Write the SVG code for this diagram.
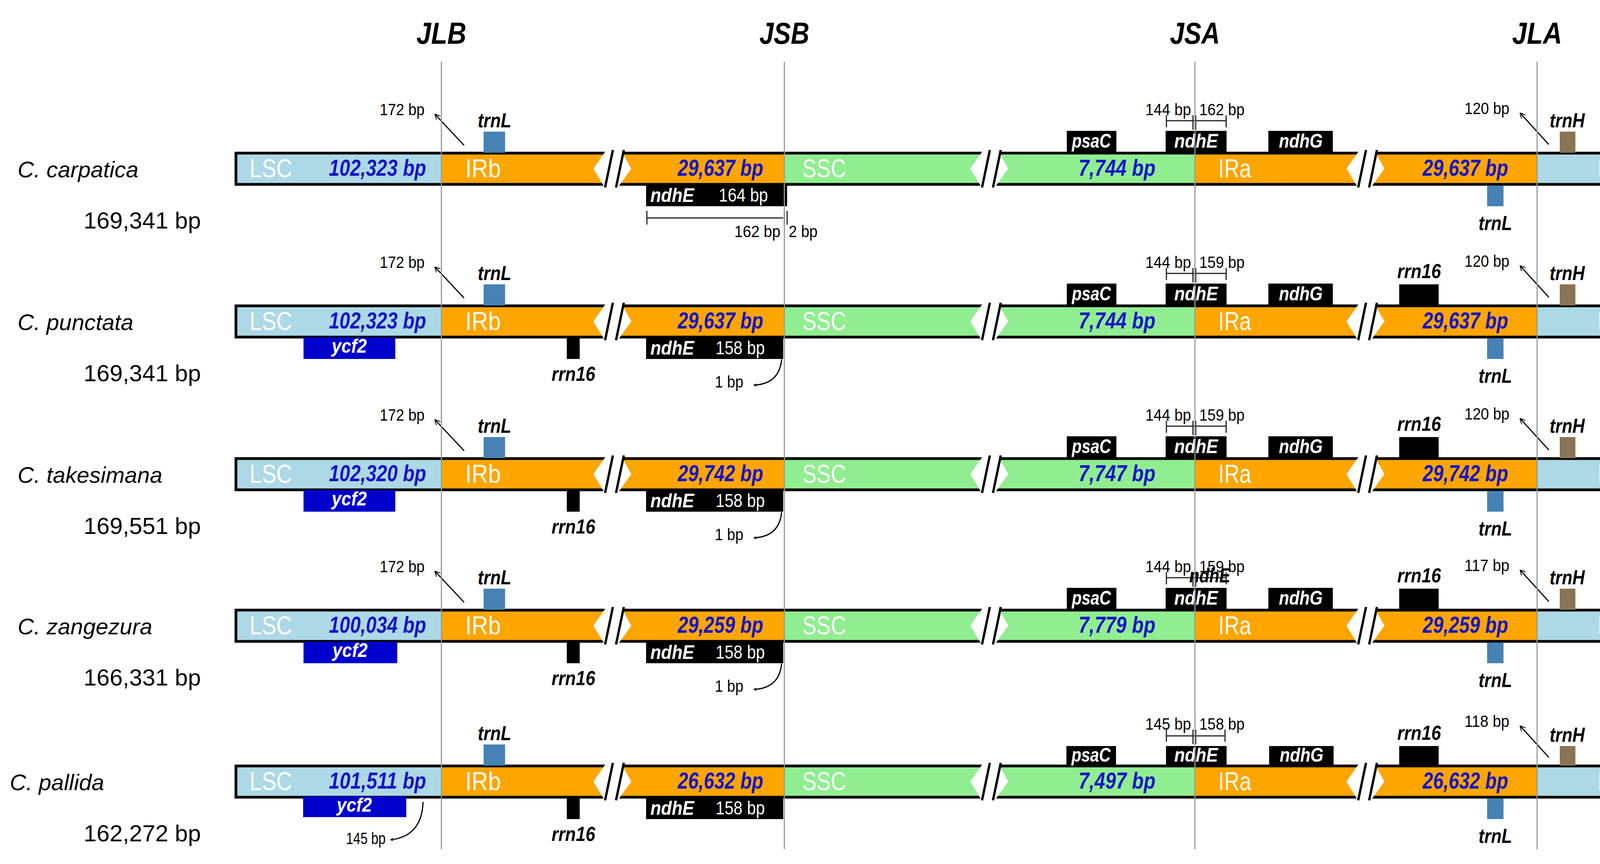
<svg xmlns="http://www.w3.org/2000/svg" width="4319" height="2212" viewBox="0 0 4319 2212">
<style>
text{font-family:"Liberation Sans",Arial,sans-serif}
.ttl{font-size:78px;font-weight:bold;font-style:italic;text-anchor:middle}
.sp{font-size:58px;font-style:italic}
.gs{font-size:60px}
.seg{font-size:66px;fill:#fff}
.num{font-size:60px;font-weight:bold;font-style:italic;fill:#1414c8}
.gl{font-size:52px;font-weight:bold;font-style:italic;text-anchor:middle}
.gw{font-size:50px;font-weight:bold;font-style:italic;fill:#fff;text-anchor:middle}
.bp{font-size:42px}
.bpw{font-size:48px;fill:#fff}
.lsc{fill:#add8e6}.ir{fill:#ffa500}.ssc{fill:#90ee90}
.brd{fill:none;stroke:#000;stroke-width:7}
.blk{fill:#000}
.trnl{fill:#4682b4}
.vl{stroke:#999;stroke-width:3}
.ar{stroke:#000;stroke-width:3;fill:none}
.dim{stroke:#222;stroke-width:3;fill:none}
</style>
<defs>
<marker id="ah" viewBox="0 0 10 10" refX="9" refY="5" markerWidth="8" markerHeight="8" orient="auto" markerUnits="userSpaceOnUse">
<path d="M0,0 L10,5 L0,10" fill="none" stroke="#000" stroke-width="1.5"/>
</marker>
<marker id="ah2" viewBox="0 0 10 10" refX="9" refY="5" markerWidth="14" markerHeight="14" orient="auto" markerUnits="userSpaceOnUse">
<path d="M0,0 L10,5 L0,10" fill="none" stroke="#000" stroke-width="1.5"/>
</marker>
<g id="bar">
<rect class="lsc" x="604" y="0" width="526" height="80"/>
<rect class="ir" x="1130" y="0" width="878" height="80"/>
<rect class="ssc" x="2008" y="0" width="1051" height="80"/>
<rect class="ir" x="3059" y="0" width="876" height="80"/>
<rect class="lsc" x="3935" y="0" width="352" height="80"/>
<rect class="brd" x="604" y="0" width="3683" height="80"/>
</g>
<g id="brk">
<polygon points="32,-6 0,40 28,86 64,86 97,40 72,-6" fill="#fff"/>
<line x1="50" y1="-8" x2="30" y2="88" stroke="#000" stroke-width="6"/>
<line x1="78" y1="-8" x2="58" y2="88" stroke="#000" stroke-width="6"/>
</g>
</defs>

<g id="titles">
<text class="ttl" x="1130" y="112" textLength="128" lengthAdjust="spacingAndGlyphs">JLB</text>
<text class="ttl" x="2008" y="112" textLength="128" lengthAdjust="spacingAndGlyphs">JSB</text>
<text class="ttl" x="3059" y="112" textLength="128" lengthAdjust="spacingAndGlyphs">JSA</text>
<text class="ttl" x="3935" y="112" textLength="128" lengthAdjust="spacingAndGlyphs">JLA</text>
</g>

<g id="row1" transform="translate(0,392)">
<text class="sp" x="45" y="62">C. carpatica</text>
<text class="gs" x="214" y="193">169,341 bp</text>
<use href="#bar"/><use href="#brk" x="1519"/><use href="#brk" x="2484"/><use href="#brk" x="3447"/>
<text class="seg" x="639" y="62" textLength="109" lengthAdjust="spacingAndGlyphs">LSC</text>
<text class="num" x="842" y="58" textLength="249" lengthAdjust="spacingAndGlyphs">102,323 bp</text>
<text class="seg" x="1191" y="62" textLength="91" lengthAdjust="spacingAndGlyphs">IRb</text>
<text class="num" x="1735" y="58" textLength="219" lengthAdjust="spacingAndGlyphs">29,637 bp</text>
<text class="seg" x="2054" y="62" textLength="112" lengthAdjust="spacingAndGlyphs">SSC</text>
<text class="num" x="2761" y="58" textLength="197" lengthAdjust="spacingAndGlyphs">7,744 bp</text>
<text class="seg" x="3119" y="62" textLength="84" lengthAdjust="spacingAndGlyphs">IRa</text>
<text class="num" x="3642" y="58" textLength="219" lengthAdjust="spacingAndGlyphs">29,637 bp</text>
<text class="seg" x="4090" y="62" textLength="109" lengthAdjust="spacingAndGlyphs">LSC</text>
<rect class="trnl" x="1238" y="-55" width="55" height="54"/>
<text class="gl" x="1266" y="-66" textLength="86" lengthAdjust="spacingAndGlyphs">trnL</text>
<line class="ar" x1="1188" y1="-20" x2="1114" y2="-99" marker-end="url(#ah2)"/>
<text class="bp" x="1087" y="-97" text-anchor="end" textLength="115" lengthAdjust="spacingAndGlyphs">172 bp</text>
<rect class="blk" x="1654" y="83" width="361" height="53"/>
<text class="gw" x="1721" y="125" textLength="112" lengthAdjust="spacingAndGlyphs">ndhE</text>
<text class="bpw" x="1840" y="124" textLength="126" lengthAdjust="spacingAndGlyphs">164 bp</text>
<path class="dim" d="M1656,148 V183 M1656,166 H2005 M2008,148 V183 M2015,148 V183"/>
<text class="bp" x="1880" y="215" textLength="118" lengthAdjust="spacingAndGlyphs">162 bp</text>
<text class="bp" x="2019" y="215" textLength="74" lengthAdjust="spacingAndGlyphs">2 bp</text>
<rect class="blk" x="2731" y="-57" width="127" height="57"/>
<text class="gw" x="2794" y="-14" textLength="100" lengthAdjust="spacingAndGlyphs">psaC</text>
<rect class="blk" x="2984" y="-57" width="156" height="57"/>
<text class="gw" x="3062" y="-14" textLength="112" lengthAdjust="spacingAndGlyphs">ndhE</text>
<rect class="blk" x="3247" y="-57" width="165" height="57"/>
<text class="gw" x="3330" y="-14" textLength="112" lengthAdjust="spacingAndGlyphs">ndhG</text>
<path class="dim" d="M2986,-97 V-66 M2986,-83 H3139 M3139,-97 V-66 M3054,-97 V-60 M3061,-97 V-60"/>
<text class="bp" x="2932" y="-97" textLength="117" lengthAdjust="spacingAndGlyphs">144 bp</text>
<text class="bp" x="3070" y="-97" textLength="116" lengthAdjust="spacingAndGlyphs">162 bp</text>
<line class="ar" x1="3965" y1="-22" x2="3892" y2="-102" marker-end="url(#ah2)"/>
<text class="bp" x="3864" y="-100" text-anchor="end" textLength="115" lengthAdjust="spacingAndGlyphs">120 bp</text>
<rect x="3993" y="-55" width="40" height="54" fill="#8b7355"/>
<text class="gl" x="4012" y="-66" textLength="90" lengthAdjust="spacingAndGlyphs">trnH</text>
<rect x="4180" y="-57" width="107" height="56" fill="#9933ee"/>
<text class="gl" x="4233" y="-66" textLength="110" lengthAdjust="spacingAndGlyphs">psbA</text>
<rect class="trnl" x="3807" y="83" width="42" height="53"/>
<text class="gl" x="3828" y="197" textLength="86" lengthAdjust="spacingAndGlyphs">trnL</text>
</g>

<g id="row2" transform="translate(0,783)">
<text class="sp" x="45" y="62">C. punctata</text>
<text class="gs" x="214" y="193">169,341 bp</text>
<use href="#bar"/><use href="#brk" x="1519"/><use href="#brk" x="2484"/><use href="#brk" x="3447"/>
<text class="seg" x="639" y="62" textLength="109" lengthAdjust="spacingAndGlyphs">LSC</text>
<text class="num" x="842" y="58" textLength="249" lengthAdjust="spacingAndGlyphs">102,323 bp</text>
<text class="seg" x="1191" y="62" textLength="91" lengthAdjust="spacingAndGlyphs">IRb</text>
<text class="num" x="1735" y="58" textLength="219" lengthAdjust="spacingAndGlyphs">29,637 bp</text>
<text class="seg" x="2054" y="62" textLength="112" lengthAdjust="spacingAndGlyphs">SSC</text>
<text class="num" x="2761" y="58" textLength="197" lengthAdjust="spacingAndGlyphs">7,744 bp</text>
<text class="seg" x="3119" y="62" textLength="84" lengthAdjust="spacingAndGlyphs">IRa</text>
<text class="num" x="3642" y="58" textLength="219" lengthAdjust="spacingAndGlyphs">29,637 bp</text>
<text class="seg" x="4090" y="62" textLength="109" lengthAdjust="spacingAndGlyphs">LSC</text>
<rect class="trnl" x="1238" y="-55" width="55" height="54"/>
<text class="gl" x="1266" y="-66" textLength="86" lengthAdjust="spacingAndGlyphs">trnL</text>
<line class="ar" x1="1188" y1="-20" x2="1114" y2="-99" marker-end="url(#ah2)"/>
<text class="bp" x="1087" y="-97" text-anchor="end" textLength="115" lengthAdjust="spacingAndGlyphs">172 bp</text>
<rect x="777" y="81" width="235" height="55" fill="#0000cd"/>
<text class="gw" x="894" y="120" textLength="90" lengthAdjust="spacingAndGlyphs">ycf2</text>
<rect class="blk" x="1451" y="81" width="33" height="55"/>
<text class="gl" x="1468" y="192" textLength="112" lengthAdjust="spacingAndGlyphs">rrn16</text>
<rect class="blk" x="1654" y="83" width="351" height="53"/>
<text class="gw" x="1721" y="125" textLength="112" lengthAdjust="spacingAndGlyphs">ndhE</text>
<text class="bpw" x="1832" y="124" textLength="126" lengthAdjust="spacingAndGlyphs">158 bp</text>
<path class="ar" d="M2001,137 Q1995,200 1930,203" marker-end="url(#ah)"/>
<text class="bp" x="1830" y="209" textLength="73" lengthAdjust="spacingAndGlyphs">1 bp</text>
<rect class="blk" x="2731" y="-57" width="127" height="57"/>
<text class="gw" x="2794" y="-14" textLength="100" lengthAdjust="spacingAndGlyphs">psaC</text>
<rect class="blk" x="2984" y="-57" width="156" height="57"/>
<text class="gw" x="3062" y="-14" textLength="112" lengthAdjust="spacingAndGlyphs">ndhE</text>
<rect class="blk" x="3247" y="-57" width="165" height="57"/>
<text class="gw" x="3330" y="-14" textLength="112" lengthAdjust="spacingAndGlyphs">ndhG</text>
<path class="dim" d="M2986,-97 V-66 M2986,-83 H3139 M3139,-97 V-66 M3054,-97 V-60 M3061,-97 V-60"/>
<text class="bp" x="2932" y="-97" textLength="117" lengthAdjust="spacingAndGlyphs">144 bp</text>
<text class="bp" x="3070" y="-97" textLength="116" lengthAdjust="spacingAndGlyphs">159 bp</text>
<rect class="blk" x="3582" y="-55" width="101" height="54"/>
<text class="gl" x="3633" y="-71" textLength="112" lengthAdjust="spacingAndGlyphs">rrn16</text>
<line class="ar" x1="3965" y1="-22" x2="3892" y2="-102" marker-end="url(#ah2)"/>
<text class="bp" x="3864" y="-100" text-anchor="end" textLength="115" lengthAdjust="spacingAndGlyphs">120 bp</text>
<rect x="3993" y="-55" width="40" height="54" fill="#8b7355"/>
<text class="gl" x="4012" y="-66" textLength="90" lengthAdjust="spacingAndGlyphs">trnH</text>
<rect x="4180" y="-57" width="107" height="56" fill="#9933ee"/>
<text class="gl" x="4233" y="-66" textLength="110" lengthAdjust="spacingAndGlyphs">psbA</text>
<rect class="trnl" x="3807" y="83" width="42" height="53"/>
<text class="gl" x="3828" y="197" textLength="86" lengthAdjust="spacingAndGlyphs">trnL</text>
</g>

<g id="row3" transform="translate(0,1174)">
<text class="sp" x="45" y="62">C. takesimana</text>
<text class="gs" x="214" y="193">169,551 bp</text>
<use href="#bar"/><use href="#brk" x="1519"/><use href="#brk" x="2484"/><use href="#brk" x="3447"/>
<text class="seg" x="639" y="62" textLength="109" lengthAdjust="spacingAndGlyphs">LSC</text>
<text class="num" x="842" y="58" textLength="249" lengthAdjust="spacingAndGlyphs">102,320 bp</text>
<text class="seg" x="1191" y="62" textLength="91" lengthAdjust="spacingAndGlyphs">IRb</text>
<text class="num" x="1735" y="58" textLength="219" lengthAdjust="spacingAndGlyphs">29,742 bp</text>
<text class="seg" x="2054" y="62" textLength="112" lengthAdjust="spacingAndGlyphs">SSC</text>
<text class="num" x="2761" y="58" textLength="197" lengthAdjust="spacingAndGlyphs">7,747 bp</text>
<text class="seg" x="3119" y="62" textLength="84" lengthAdjust="spacingAndGlyphs">IRa</text>
<text class="num" x="3642" y="58" textLength="219" lengthAdjust="spacingAndGlyphs">29,742 bp</text>
<text class="seg" x="4090" y="62" textLength="109" lengthAdjust="spacingAndGlyphs">LSC</text>
<rect class="trnl" x="1238" y="-55" width="55" height="54"/>
<text class="gl" x="1266" y="-66" textLength="86" lengthAdjust="spacingAndGlyphs">trnL</text>
<line class="ar" x1="1188" y1="-20" x2="1114" y2="-99" marker-end="url(#ah2)"/>
<text class="bp" x="1087" y="-97" text-anchor="end" textLength="115" lengthAdjust="spacingAndGlyphs">172 bp</text>
<rect x="777" y="81" width="235" height="55" fill="#0000cd"/>
<text class="gw" x="894" y="120" textLength="90" lengthAdjust="spacingAndGlyphs">ycf2</text>
<rect class="blk" x="1451" y="81" width="33" height="55"/>
<text class="gl" x="1468" y="192" textLength="112" lengthAdjust="spacingAndGlyphs">rrn16</text>
<rect class="blk" x="1654" y="83" width="351" height="53"/>
<text class="gw" x="1721" y="125" textLength="112" lengthAdjust="spacingAndGlyphs">ndhE</text>
<text class="bpw" x="1832" y="124" textLength="126" lengthAdjust="spacingAndGlyphs">158 bp</text>
<path class="ar" d="M2001,137 Q1995,200 1930,203" marker-end="url(#ah)"/>
<text class="bp" x="1830" y="209" textLength="73" lengthAdjust="spacingAndGlyphs">1 bp</text>
<rect class="blk" x="2731" y="-57" width="127" height="57"/>
<text class="gw" x="2794" y="-14" textLength="100" lengthAdjust="spacingAndGlyphs">psaC</text>
<rect class="blk" x="2984" y="-57" width="156" height="57"/>
<text class="gw" x="3062" y="-14" textLength="112" lengthAdjust="spacingAndGlyphs">ndhE</text>
<rect class="blk" x="3247" y="-57" width="165" height="57"/>
<text class="gw" x="3330" y="-14" textLength="112" lengthAdjust="spacingAndGlyphs">ndhG</text>
<path class="dim" d="M2986,-97 V-66 M2986,-83 H3139 M3139,-97 V-66 M3054,-97 V-60 M3061,-97 V-60"/>
<text class="bp" x="2932" y="-97" textLength="117" lengthAdjust="spacingAndGlyphs">144 bp</text>
<text class="bp" x="3070" y="-97" textLength="116" lengthAdjust="spacingAndGlyphs">159 bp</text>
<rect class="blk" x="3582" y="-55" width="101" height="54"/>
<text class="gl" x="3633" y="-71" textLength="112" lengthAdjust="spacingAndGlyphs">rrn16</text>
<line class="ar" x1="3965" y1="-22" x2="3892" y2="-102" marker-end="url(#ah2)"/>
<text class="bp" x="3864" y="-100" text-anchor="end" textLength="115" lengthAdjust="spacingAndGlyphs">120 bp</text>
<rect x="3993" y="-55" width="40" height="54" fill="#8b7355"/>
<text class="gl" x="4012" y="-66" textLength="90" lengthAdjust="spacingAndGlyphs">trnH</text>
<rect x="4180" y="-57" width="107" height="56" fill="#9933ee"/>
<text class="gl" x="4233" y="-66" textLength="110" lengthAdjust="spacingAndGlyphs">psbA</text>
<rect class="trnl" x="3807" y="83" width="42" height="53"/>
<text class="gl" x="3828" y="197" textLength="86" lengthAdjust="spacingAndGlyphs">trnL</text>
</g>

<g id="row4" transform="translate(0,1562)">
<text class="sp" x="45" y="62">C. zangezura</text>
<text class="gs" x="214" y="193">166,331 bp</text>
<use href="#bar"/><use href="#brk" x="1519"/><use href="#brk" x="2484"/><use href="#brk" x="3447"/>
<text class="seg" x="639" y="62" textLength="109" lengthAdjust="spacingAndGlyphs">LSC</text>
<text class="num" x="842" y="58" textLength="249" lengthAdjust="spacingAndGlyphs">100,034 bp</text>
<text class="seg" x="1191" y="62" textLength="91" lengthAdjust="spacingAndGlyphs">IRb</text>
<text class="num" x="1735" y="58" textLength="219" lengthAdjust="spacingAndGlyphs">29,259 bp</text>
<text class="seg" x="2054" y="62" textLength="112" lengthAdjust="spacingAndGlyphs">SSC</text>
<text class="num" x="2761" y="58" textLength="197" lengthAdjust="spacingAndGlyphs">7,779 bp</text>
<text class="seg" x="3119" y="62" textLength="84" lengthAdjust="spacingAndGlyphs">IRa</text>
<text class="num" x="3642" y="58" textLength="219" lengthAdjust="spacingAndGlyphs">29,259 bp</text>
<text class="seg" x="4090" y="62" textLength="109" lengthAdjust="spacingAndGlyphs">LSC</text>
<rect class="trnl" x="1238" y="-55" width="55" height="54"/>
<text class="gl" x="1266" y="-66" textLength="86" lengthAdjust="spacingAndGlyphs">trnL</text>
<line class="ar" x1="1188" y1="-20" x2="1114" y2="-99" marker-end="url(#ah2)"/>
<text class="bp" x="1087" y="-97" text-anchor="end" textLength="115" lengthAdjust="spacingAndGlyphs">172 bp</text>
<rect x="777" y="81" width="240" height="55" fill="#0000cd"/>
<text class="gw" x="896" y="120" textLength="90" lengthAdjust="spacingAndGlyphs">ycf2</text>
<rect class="blk" x="1451" y="81" width="33" height="55"/>
<text class="gl" x="1468" y="192" textLength="112" lengthAdjust="spacingAndGlyphs">rrn16</text>
<rect class="blk" x="1654" y="83" width="351" height="53"/>
<text class="gw" x="1721" y="125" textLength="112" lengthAdjust="spacingAndGlyphs">ndhE</text>
<text class="bpw" x="1832" y="124" textLength="126" lengthAdjust="spacingAndGlyphs">158 bp</text>
<path class="ar" d="M2001,137 Q1995,200 1930,203" marker-end="url(#ah)"/>
<text class="bp" x="1830" y="209" textLength="73" lengthAdjust="spacingAndGlyphs">1 bp</text>
<rect class="blk" x="2731" y="-57" width="127" height="57"/>
<text class="gw" x="2794" y="-14" textLength="100" lengthAdjust="spacingAndGlyphs">psaC</text>
<rect class="blk" x="2984" y="-57" width="156" height="57"/>
<text class="gw" x="3062" y="-14" textLength="112" lengthAdjust="spacingAndGlyphs">ndhE</text>
<rect class="blk" x="3247" y="-57" width="165" height="57"/>
<text class="gw" x="3330" y="-14" textLength="112" lengthAdjust="spacingAndGlyphs">ndhG</text>
<path class="dim" d="M2986,-97 V-66 M2986,-83 H3139 M3139,-97 V-66 M3054,-97 V-60 M3061,-97 V-60"/>
<text class="bp" x="2932" y="-97" textLength="117" lengthAdjust="spacingAndGlyphs">144 bp</text>
<text class="bp" x="3070" y="-97" textLength="116" lengthAdjust="spacingAndGlyphs">159 bp</text>
<text class="gl" x="3097" y="-71" textLength="105" lengthAdjust="spacingAndGlyphs">ndhE</text>
<rect class="blk" x="3582" y="-55" width="101" height="54"/>
<text class="gl" x="3633" y="-71" textLength="112" lengthAdjust="spacingAndGlyphs">rrn16</text>
<line class="ar" x1="3965" y1="-22" x2="3892" y2="-102" marker-end="url(#ah2)"/>
<text class="bp" x="3864" y="-100" text-anchor="end" textLength="115" lengthAdjust="spacingAndGlyphs">117 bp</text>
<rect x="3993" y="-55" width="40" height="54" fill="#8b7355"/>
<text class="gl" x="4012" y="-66" textLength="90" lengthAdjust="spacingAndGlyphs">trnH</text>
<rect x="4145" y="-58" width="140" height="51" fill="#9933ee"/>
<text class="gw" x="4215" y="-17" textLength="110" lengthAdjust="spacingAndGlyphs">psbA</text>
<rect class="trnl" x="3807" y="83" width="42" height="53"/>
<text class="gl" x="3828" y="197" textLength="86" lengthAdjust="spacingAndGlyphs">trnL</text>
</g>

<g id="row5" transform="translate(0,1961)">
<text class="sp" x="25" y="62">C. pallida</text>
<text class="gs" x="214" y="193">162,272 bp</text>
<use href="#bar"/><use href="#brk" x="1519"/><use href="#brk" x="2484"/><use href="#brk" x="3447"/>
<text class="seg" x="639" y="62" textLength="109" lengthAdjust="spacingAndGlyphs">LSC</text>
<text class="num" x="842" y="58" textLength="249" lengthAdjust="spacingAndGlyphs">101,511 bp</text>
<text class="seg" x="1191" y="62" textLength="91" lengthAdjust="spacingAndGlyphs">IRb</text>
<text class="num" x="1735" y="58" textLength="219" lengthAdjust="spacingAndGlyphs">26,632 bp</text>
<text class="seg" x="2054" y="62" textLength="112" lengthAdjust="spacingAndGlyphs">SSC</text>
<text class="num" x="2761" y="58" textLength="197" lengthAdjust="spacingAndGlyphs">7,497 bp</text>
<text class="seg" x="3119" y="62" textLength="84" lengthAdjust="spacingAndGlyphs">IRa</text>
<text class="num" x="3642" y="58" textLength="219" lengthAdjust="spacingAndGlyphs">26,632 bp</text>
<text class="seg" x="4090" y="62" textLength="109" lengthAdjust="spacingAndGlyphs">LSC</text>
<rect class="trnl" x="1238" y="-55" width="55" height="54"/>
<text class="gl" x="1266" y="-66" textLength="86" lengthAdjust="spacingAndGlyphs">trnL</text>
<rect x="776" y="78" width="264" height="53" fill="#0000cd"/>
<text class="gw" x="907" y="117" textLength="90" lengthAdjust="spacingAndGlyphs">ycf2</text>
<path class="ar" d="M1083,92 Q1080,180 1000,189" marker-end="url(#ah)"/>
<text class="bp" x="886" y="200" textLength="101" lengthAdjust="spacingAndGlyphs">145 bp</text>
<rect class="blk" x="1451" y="81" width="33" height="55"/>
<text class="gl" x="1468" y="192" textLength="112" lengthAdjust="spacingAndGlyphs">rrn16</text>
<rect class="blk" x="1654" y="83" width="351" height="53"/>
<text class="gw" x="1721" y="125" textLength="112" lengthAdjust="spacingAndGlyphs">ndhE</text>
<text class="bpw" x="1832" y="124" textLength="126" lengthAdjust="spacingAndGlyphs">158 bp</text>
<rect class="blk" x="2730" y="-51" width="127" height="51"/>
<text class="gw" x="2793" y="-11" textLength="100" lengthAdjust="spacingAndGlyphs">psaC</text>
<rect class="blk" x="2985" y="-51" width="155" height="51"/>
<text class="gw" x="3062" y="-11" textLength="112" lengthAdjust="spacingAndGlyphs">ndhE</text>
<rect class="blk" x="3249" y="-51" width="165" height="51"/>
<text class="gw" x="3332" y="-11" textLength="112" lengthAdjust="spacingAndGlyphs">ndhG</text>
<path class="dim" d="M2986,-93 V-62 M2986,-77 H3136 M3136,-93 V-62 M3054,-93 V-56 M3061,-93 V-56"/>
<text class="bp" x="2932" y="-93" textLength="117" lengthAdjust="spacingAndGlyphs">145 bp</text>
<text class="bp" x="3070" y="-93" textLength="116" lengthAdjust="spacingAndGlyphs">158 bp</text>
<rect class="blk" x="3582" y="-51" width="101" height="51"/>
<text class="gl" x="3633" y="-67" textLength="112" lengthAdjust="spacingAndGlyphs">rrn16</text>
<line class="ar" x1="3965" y1="-22" x2="3892" y2="-102" marker-end="url(#ah2)"/>
<text class="bp" x="3864" y="-100" text-anchor="end" textLength="115" lengthAdjust="spacingAndGlyphs">118 bp</text>
<rect x="3993" y="-51" width="40" height="50" fill="#8b7355"/>
<text class="gl" x="4012" y="-62" textLength="90" lengthAdjust="spacingAndGlyphs">trnH</text>
<rect x="4178" y="-51" width="109" height="47" fill="#9933ee"/>
<text class="gw" x="4232" y="-14" textLength="105" lengthAdjust="spacingAndGlyphs">psbA</text>
<rect class="trnl" x="3807" y="83" width="42" height="53"/>
<text class="gl" x="3828" y="197" textLength="86" lengthAdjust="spacingAndGlyphs">trnL</text>
</g>

<g id="connectors">
<line class="vl" x1="1130" y1="158" x2="1130" y2="2174"/>
<line class="vl" x1="2008" y1="158" x2="2008" y2="2174"/>
<line class="vl" x1="3059" y1="158" x2="3059" y2="2174"/>
<line class="vl" x1="3935" y1="158" x2="3935" y2="2174"/>
</g>
</svg>
